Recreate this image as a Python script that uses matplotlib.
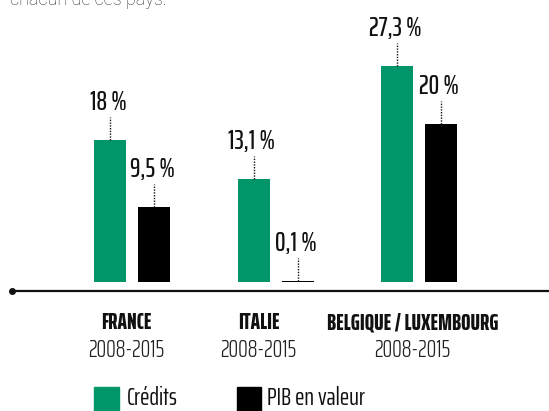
import matplotlib
matplotlib.use("Agg")
import matplotlib.pyplot as plt
from matplotlib.patches import Rectangle
import numpy as np

# Croissance cumulée 2008-2015 (en %)
pays = ["FRANCE", "ITALIE", "BELGIQUE / LUXEMBOURG"]
periodes = ["2008-2015", "2008-2015", "2008-2015"]
credits = [18.0, 13.1, 27.3]
pib_valeur = [9.5, 0.1, 20.0]
etiquettes_credits = ["18 %", "13,1 %", "27,3 %"]
etiquettes_pib = ["9,5 %", "0,1 %", "20 %"]
legende = ["Crédits", "PIB en valeur"]

VERT = "#00966a"
NOIR = "#000000"
COND = ["Saira ExtraCondensed", "Barlow Condensed", "DejaVu Sans"]

W, H = 549, 411
fig = plt.figure(figsize=(W / 100, H / 100), dpi=100)
ax = fig.add_axes([0, 0, 1, 1])
ax.set_axis_off()

# échelle : ~7.9 px par point de %, base des barres à 282 px du haut
PX_PER_PCT = 7.9
BASE_PX = 282
GROUP_PX = 143.5
X0_PX = 132
ax.set_xlim(-X0_PX / GROUP_PX, (W - X0_PX) / GROUP_PX)
ax.set_ylim(-(H - BASE_PX) / PX_PER_PCT, BASE_PX / PX_PER_PCT)


def px(n):
    return n / PX_PER_PCT


x = np.arange(len(pays))
largeur = 32 / GROUP_PX
ecart = 22 / GROUP_PX

ax.bar(x - ecart, credits, width=largeur, color=VERT)
ax.bar(x + ecart, pib_valeur, width=largeur, color=NOIR)

# traits pointillés + valeurs au-dessus de chaque barre
for xs, vals, labels in [(x - ecart, credits, etiquettes_credits),
                         (x + ecart, pib_valeur, etiquettes_pib)]:
    for xi, v, lab in zip(xs, vals, labels):
        ax.plot([xi, xi], [v, v + px(23)], color="#111111", lw=1,
                linestyle=(0, (1, 1)))
        ax.text(xi - 2 / GROUP_PX, v + px(30), lab, ha="center", va="baseline",
                fontsize=19, fontweight=500, family=COND, color="#111111")

# ligne de base avec point à gauche
xl = ax.get_xlim()
x_start = xl[0] + 12 / GROUP_PX
ax.plot([x_start, xl[1]], [-px(9), -px(9)], color="#111111", lw=1.6,
        solid_capstyle="butt")
ax.plot([x_start], [-px(9)], marker="o", markersize=4, color="#111111")

# noms des pays et périodes
decalage = [-5.5, -17, -6.5]
for xi, nom, per, d in zip(x, pays, periodes, decalage):
    xc = xi + d / GROUP_PX
    ax.text(xc, -px(329 - BASE_PX), nom, ha="center", va="baseline",
            fontsize=16, fontweight=800, family=COND, color="#111111")
    ax.text(xc, -px(357 - BASE_PX), per, ha="center", va="baseline",
            fontsize=17.5, fontweight=300, family=COND, color="#222222")

# légende en bas
fig.patches.append(Rectangle((94 / W, 0), 25 / W, (H - 387) / H,
                             transform=fig.transFigure, color=VERT))
fig.patches.append(Rectangle((237 / W, 0), 24 / W, (H - 387) / H,
                             transform=fig.transFigure, color=NOIR))
fig.text(127 / W, (H - 405) / H, legende[0], fontsize=18, family=COND,
         va="baseline", color="#111111")
fig.text(267 / W, (H - 405) / H, legende[1], fontsize=18, family=COND,
         va="baseline", color="#111111")

# fin du texte d'introduction, coupée en haut
fig.text(10 / W, (H - 5) / H, "chacun de ces pays.", fontsize=13,
         family=["Roboto", "DejaVu Sans"], fontweight="light",
         va="baseline", color="#333333")

fig.savefig("out.png", dpi=100)
